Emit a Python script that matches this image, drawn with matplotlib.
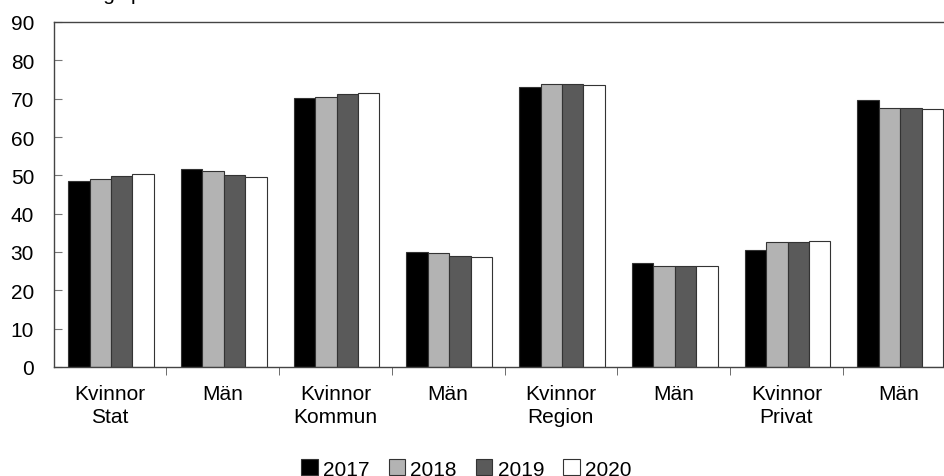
import numpy as np
import matplotlib.pyplot as plt
from matplotlib.ticker import FixedLocator

plt.rcParams['font.family'] = ['Liberation Sans', 'DejaVu Sans']

categories = ['Kvinnor\nStat', 'Män', 'Kvinnor\nKommun', 'Män',
              'Kvinnor\nRegion', 'Män', 'Kvinnor\nPrivat', 'Män']
years = ['2017', '2018', '2019', '2020']
v2017 = [48.5, 51.7, 70.2, 30.0, 73.0, 27.1, 30.4, 69.6]
v2018 = [49.0, 51.1, 70.4, 29.7, 73.7, 26.3, 32.5, 67.5]
v2019 = [49.9, 50.0, 71.1, 29.0, 73.7, 26.3, 32.5, 67.5]
v2020 = [50.4, 49.6, 71.6, 28.6, 73.6, 26.4, 32.8, 67.2]
colors = ['#000000', '#b3b3b3', '#5a5a5a', '#ffffff']

fig = plt.figure(figsize=(9.44, 4.77), dpi=100)
# plot area runs past the right edge of the picture, as in the original
ax = fig.add_axes([53.5 / 944, 1 - 368 / 477, 902 / 944, 345 / 477])

x = np.arange(len(categories))
w = 0.19
for i, (vals, c) in enumerate(zip([v2017, v2018, v2019, v2020], colors)):
    ax.bar(x + (i - 1.5) * w + 0.01, vals, width=w, color=c, edgecolor='#333333',
           linewidth=0.8, label=years[i])

ax.set_xlim(-0.5, len(categories) - 0.5)
ax.set_ylim(0, 90)
ax.set_yticks(np.arange(0, 91, 10))
ax.set_xticks(x)
ax.set_xticklabels(categories, fontsize=15, linespacing=1.3)
ax.xaxis.set_minor_locator(FixedLocator(np.arange(0.5, len(categories), 1)))
ax.tick_params(axis='x', which='major', length=0, pad=12)
ax.tick_params(axis='x', which='minor', length=6, direction='out', color='#555555')
ax.tick_params(axis='y', labelsize=15, direction='in', length=6, color='#777777', pad=14)
for s in ax.spines.values():
    s.set_color('#444444')
    s.set_linewidth(1.0)

fig.legend(loc='upper center', bbox_to_anchor=(0.494, 1 - 452 / 477), ncol=4,
           frameon=False, fontsize=15, handlelength=0.8, handleheight=0.8,
           handletextpad=0.25, columnspacing=0.9, borderaxespad=0)

# title sits mostly above the picture, only its descenders are seen
fig.text(16 / 944, 1.0, 'Fördelning i procent', fontsize=15, va='baseline')

fig.savefig('out.png', dpi=100)
